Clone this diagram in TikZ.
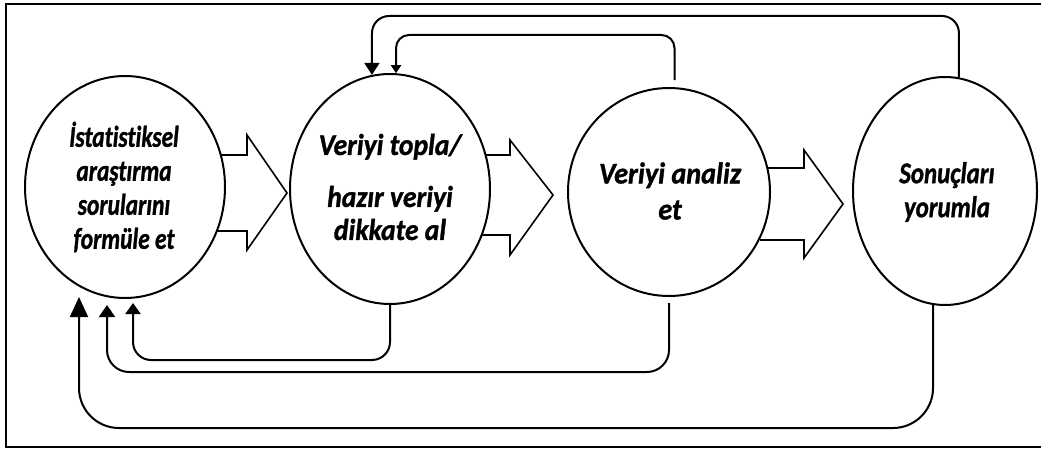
\documentclass[tikz,border=0pt]{standalone}
\usepackage{fontspec}
\setmainfont{Carlito}
\newfontfamily\lblfont[Ligatures=NoCommon, BoldItalicFeatures={FakeBold=1.2}]{Carlito}
\usetikzlibrary{shapes.geometric,arrows.meta}

\begin{document}
\begin{tikzpicture}[x=1pt,y=-1pt,
  stage/.style={draw, line width=2pt, ellipse, fill=white, inner sep=0pt},
  lbl/.style={align=center, inner sep=0pt,
    font=\lblfont\bfseries\itshape\fontsize{30}{#1}\selectfont},
  blockarrow/.style={draw, line width=1.6pt, fill=white, line join=miter},
  loop/.style={draw, line width=2pt},
]
\useasboundingbox (0,0) rectangle (1041,449);

% frame (open on the right)
\draw[line width=2pt] (1050,4) -- (6,4) -- (6,447) -- (1050,447);

% wide block arrows between the stages
\draw[blockarrow] (215,155) -- (247,155) -- (247,135) -- (287,193) -- (247,250) -- (247,231) -- (215,231);
\draw[blockarrow] (475,155) -- (510,155) -- (510,140) -- (553,195) -- (510,255) -- (510,235) -- (475,235);
\draw[blockarrow] (760,168) -- (804,168) -- (804,150) -- (843,204) -- (804,258) -- (804,240) -- (760,240);

% the four stages
\node[stage, minimum width=200pt, minimum height=222pt] (e1) at (125,187) {};
\node[stage, minimum width=200pt, minimum height=230pt] (e2) at (390,189) {};
\node[stage, minimum width=202pt, minimum height=208pt] (e3) at (669,192) {};
\node[stage, minimum width=184pt, minimum height=228pt] (e4) at (945,191) {};

% return paths over the top
\draw[loop, rounded corners=17pt, -{Triangle[length=12pt,width=15pt]}]
  (e4.83.5) |- (372,16) -- (e2.99);
\draw[loop, rounded corners=13pt, shorten <=7pt, -{Triangle[length=8pt,width=10pt]}]
  (e3.87) |- (396,35) -- (e2.87);

% return paths underneath
\coordinate (in1) at (133,303);
\coordinate (in2) at (107,305);
\coordinate (in3) at (79,297);
\draw[loop, rounded corners=18pt, -{Triangle[length=11pt,width=15pt]}]
  (e2.south) |- (133,360) -- (in1);
\draw[loop, rounded corners=22pt, shorten <=6pt, -{Triangle[length=12pt,width=16pt]}]
  (e3.south) |- (107,372) -- (in2);
\draw[loop, rounded corners=40pt, -{Triangle[length=20pt,width=18pt]}]
  (e4.-96) |- (79,428) -- (in3);

% stage labels
\node[lbl=34, xscale=0.78] (t1) at (124,187) {İstatistiksel\\araştırma\\sorularını\\formüle et};
\node[lbl=33, xscale=0.92] (t2) at (390,187) {Veriyi topla/\\[19pt]hazır veriyi\\dikkate al};
\node[lbl=36, xscale=0.94] (t3) at (670,191) {Veriyi analiz\\et};
\node[lbl=34, xscale=0.83] (t4) at (947,192) {Sonuçları\\yorumla};
\end{tikzpicture}
\end{document}
